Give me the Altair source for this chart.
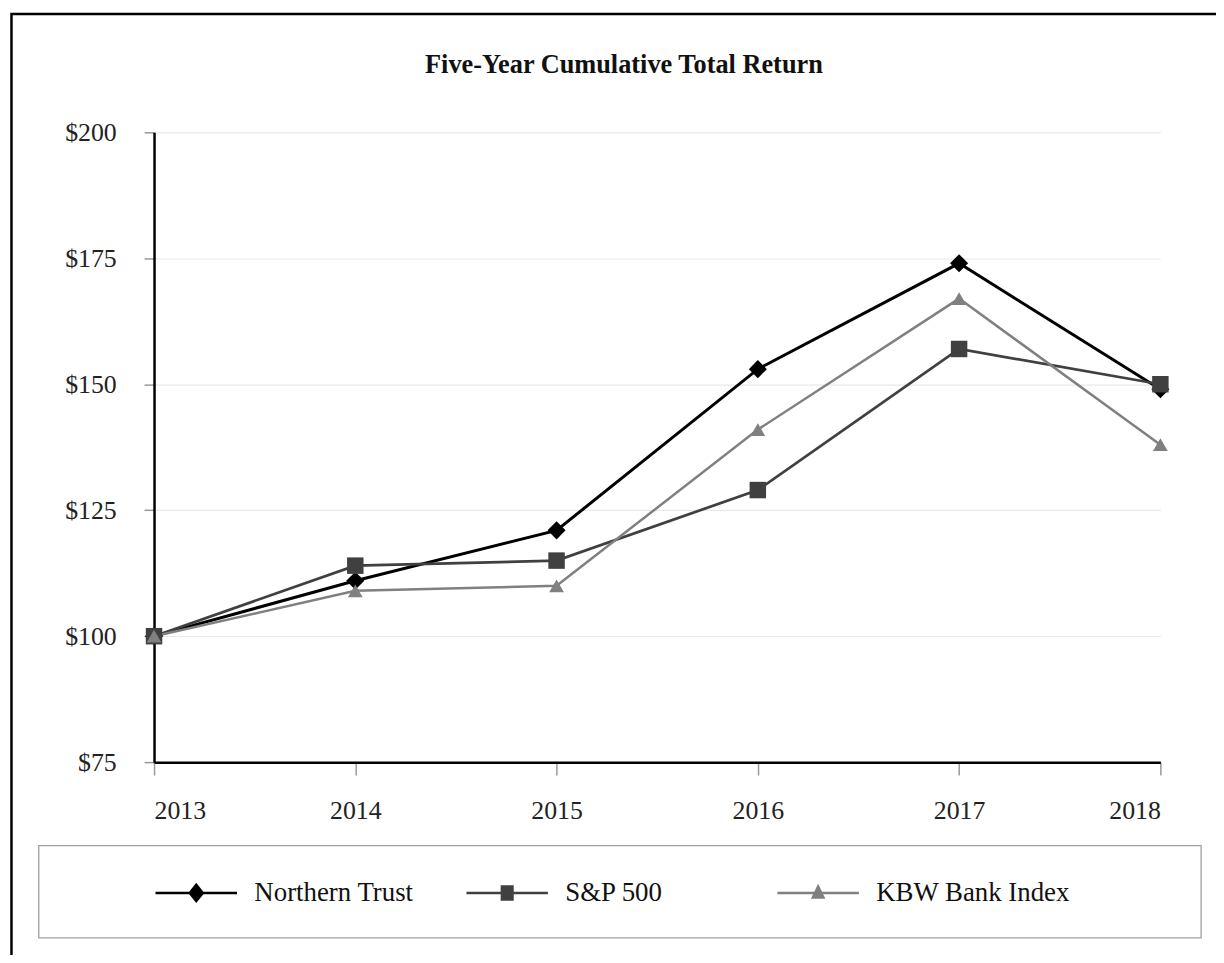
import altair as alt
import pandas as pd

years = [2013, 2014, 2015, 2016, 2017, 2018]
series_names = ["Northern Trust", "S&P 500", "KBW Bank Index"]
northern_trust = [100, 111, 121, 153, 174, 149]
sp500 = [100, 114, 115, 129, 157, 150]
kbw_bank = [100, 109, 110, 141, 167, 138]
y_ticks = [75, 100, 125, 150, 175, 200]
title_text = "Five-Year Cumulative Total Return"

colors = ["#000000", "#404040", "#808080"]
marker_shapes = ["diamond", "square", "triangle-up"]
marker_sizes = [330, 220, 230]
line_widths = [3, 2.5, 2.5]
legend_paths = [
    "M-1,0H1M0,-0.2L0.16,0L0,0.2L-0.16,0Z",
    "M-1,0H1M-0.13,-0.16H0.13V0.16H-0.13Z",
    "M-1,0H1M0,-0.16L0.13,0.11H-0.13Z",
]

rows = []
for name, vals in zip(series_names, [northern_trust, sp500, kbw_bank]):
    for yr, v in zip(years, vals):
        rows.append({"year": yr, "value": v, "series": name})
df = pd.DataFrame(rows)

FONT = "Liberation Serif"

x_enc = alt.X(
    "year:Q",
    scale=alt.Scale(domain=[2013, 2018], nice=False, zero=False),
    axis=alt.Axis(
        values=years, format="d", title=None, grid=False,
        domainColor="#000000", domainWidth=2.5,
        tickColor="#999999", tickWidth=1.5, tickSize=13,
        labelFont=FONT, labelFontSize=26, labelColor="#222222",
        labelPadding=23,
    ),
)
y_enc = alt.Y(
    "value:Q",
    scale=alt.Scale(domain=[75, 200], nice=False, zero=False),
    axis=alt.Axis(
        values=y_ticks, labelExpr="'$' + datum.value", title=None,
        grid=True, gridColor="#e8e8e8", gridWidth=1.2,
        domainColor="#000000", domainWidth=2.5,
        tickColor="#999999", tickWidth=1.5, tickSize=10,
        labelFont=FONT, labelFontSize=26, labelColor="#222222",
        labelPadding=28,
    ),
)
color_scale = alt.Scale(domain=series_names, range=colors)

base = alt.Chart(df)

lines = base.mark_line().encode(
    x=x_enc,
    y=y_enc,
    color=alt.Color("series:N", scale=color_scale, legend=None),
    strokeWidth=alt.StrokeWidth(
        "series:N", scale=alt.Scale(domain=series_names, range=line_widths), legend=None
    ),
)

points = base.mark_point(filled=True, opacity=1).encode(
    x="year:Q",
    y="value:Q",
    color=alt.Color("series:N", scale=color_scale, legend=None),
    shape=alt.Shape(
        "series:N", scale=alt.Scale(domain=series_names, range=marker_shapes), legend=None
    ),
    size=alt.Size(
        "series:N", scale=alt.Scale(domain=series_names, range=marker_sizes), legend=None
    ),
)

legend_props = dict(
    title=None, orient="none", legendX=0, legendY=723, direction="horizontal",
    columns=3, gridAlign="all", columnPadding=13, padding=0,
    symbolSize=6724, symbolStrokeWidth=2.5, symbolOpacity=1,
    labelFont=FONT, labelFontSize=27, labelColor="#111111", labelOffset=16,
    labelLimit=400,
)

legend_layer = base.transform_filter("false").mark_point(
    filled=False, opacity=1, strokeWidth=2.5
).encode(
    x="year:Q",
    y="value:Q",
    fill=alt.Fill("series:N", scale=alt.Scale(domain=series_names, range=colors),
                  legend=alt.Legend(**legend_props)),
    stroke=alt.Stroke("series:N", scale=alt.Scale(domain=series_names, range=colors),
                      legend=alt.Legend(**legend_props)),
    shape=alt.Shape("series:N", scale=alt.Scale(domain=series_names, range=legend_paths),
                    legend=alt.Legend(**legend_props)),
)

one = alt.Chart(pd.DataFrame({"k": [0]}))
outer_border = one.mark_rect(fill=None, stroke="#000000", strokeWidth=2.5).encode(
    x=alt.value(-143.5), x2=alt.value(1200), y=alt.value(-119), y2=alt.value(1000)
)
legend_box = one.mark_rect(fill=None, stroke="#a0a0a0", strokeWidth=1.3).encode(
    x=alt.value(-116), x2=alt.value(1054), y=alt.value(718), y2=alt.value(811)
)
title_mark = one.mark_text(
    text=title_text, font=FONT, fontSize=26.5, fontWeight="bold", color="#111111",
    align="center", baseline="middle",
).encode(x=alt.value(473), y=alt.value(-68))

chart = alt.layer(
    outer_border, legend_box, title_mark, lines, points, legend_layer
).resolve_scale(
    shape="independent", size="independent", fill="independent", stroke="independent"
).properties(
    width=1013,
    height=634,
    autosize=alt.AutoSizeParams(type="none"),
    padding={"left": 147, "top": 122, "right": 56, "bottom": 191},
    background="#ffffff",
).configure_view(stroke=None)

chart.save("out.html", embed_options={"renderer": "svg", "actions": False})
